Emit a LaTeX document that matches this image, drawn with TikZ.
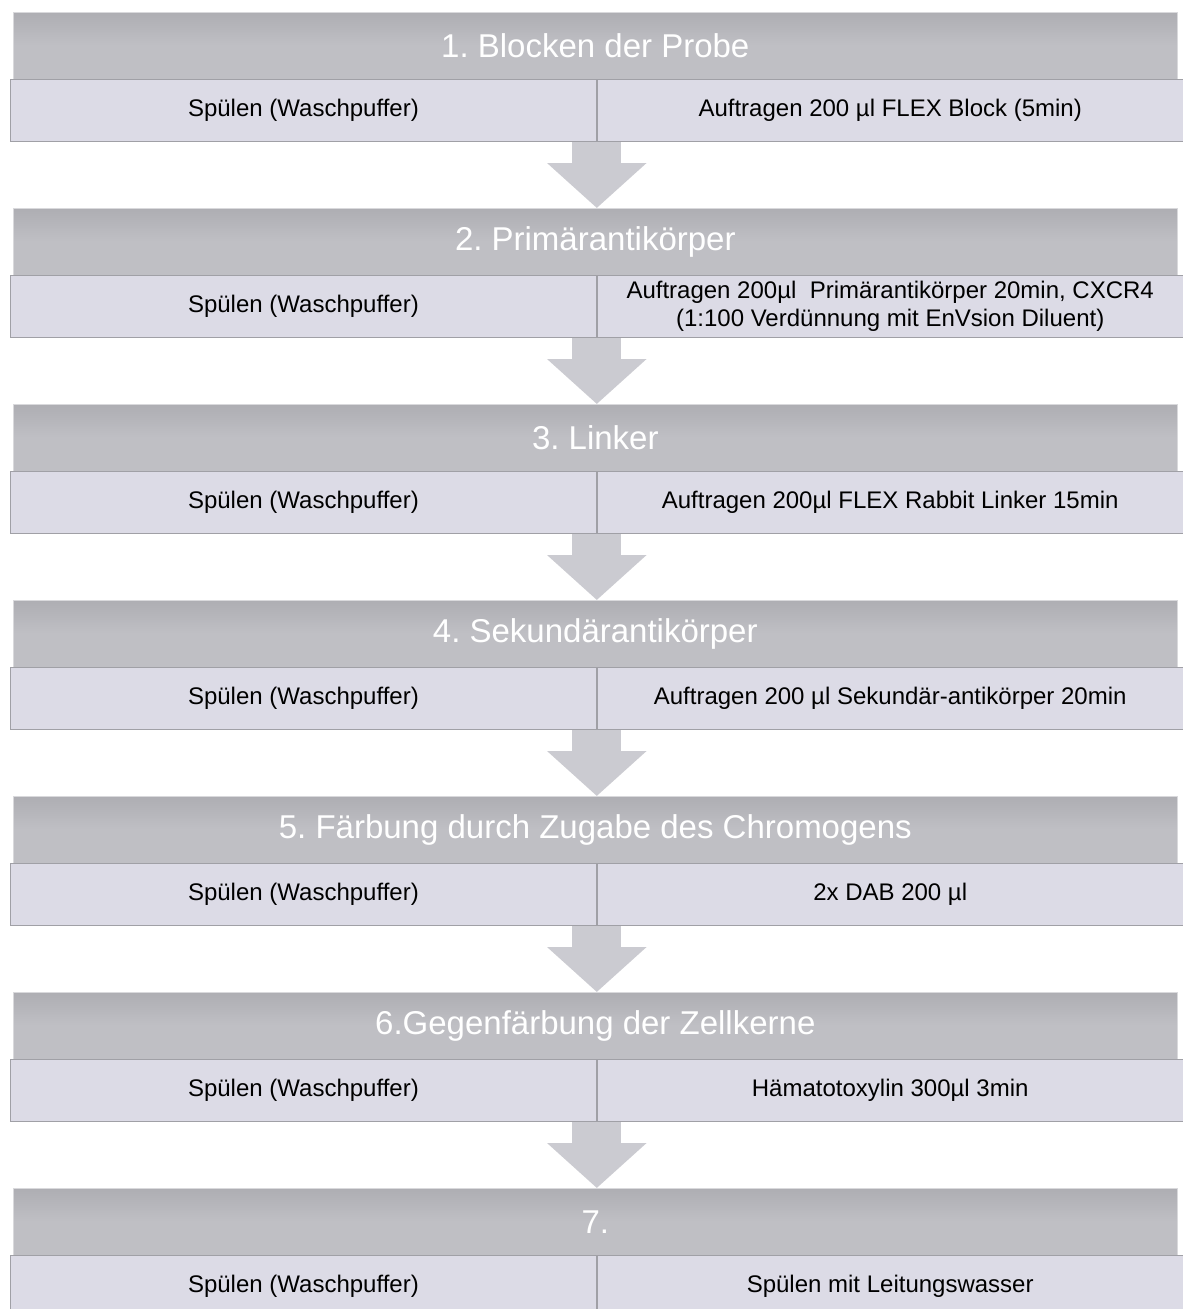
\documentclass[tikz,border=0pt]{standalone}
\usepackage{fontspec}
\setmainfont{Liberation Sans}
\usepackage{tikz}
\usetikzlibrary{arrows.meta,positioning}
\frenchspacing
\definecolor{silver}{HTML}{BFBFC4}
\definecolor{silvertop}{HTML}{AEAEB3}
\definecolor{lilac}{HTML}{DCDBE6}
\definecolor{rim}{HTML}{A0A0A6}
\definecolor{pewter}{HTML}{CBCBD1}
\tikzset{
  stagebar/.style={rectangle, draw=silver!60!white, line width=0.6pt, top color=silvertop, bottom color=silver,
                   middle color=silver, minimum width=1164pt, minimum height=67pt, anchor=north west,
                   inner sep=0pt, text=white, font=\fontsize{33}{38}\selectfont},
  cell/.style={rectangle, draw=rim, fill=lilac, line width=0.8pt, minimum width=586pt, minimum height=62pt,
               inner sep=0pt, align=center, font=\fontsize{24}{28}\selectfont},
  flow/.style={draw=pewter, line width=49pt, -{Triangle[width=97pt, length=45pt]}}
}

\begin{document}
\begin{tikzpicture}[x=1pt, y=-1pt]
  \useasboundingbox (0,0) rectangle (1183,1309);

  \newcommand{\stage}[5]{%
    \node[stagebar] (h#1) at (13, #2) {#3};
    \node[cell, anchor=north west] (l#1) at (10, #2+67) {#4};
    \node[cell, right=0pt of l#1] (r#1) {#5};}

  \stage{1}{12}{1. Blocken der Probe}{Spülen (Waschpuffer)}{Auftragen 200 µl FLEX Block (5min)}
  \stage{2}{208}{2. Primärantikörper}{Spülen (Waschpuffer)}{Auftragen 200µl~ Primärantikörper 20min, CXCR4\\(1:100 Verdünnung mit EnVsion Diluent)}
  \stage{3}{404}{3. Linker}{Spülen (Waschpuffer)}{Auftragen 200µl FLEX Rabbit Linker 15min}
  \stage{4}{600}{4. Sekundärantikörper}{Spülen (Waschpuffer)}{Auftragen 200 µl Sekundär-antikörper 20min}
  \stage{5}{796}{5. Färbung durch Zugabe des Chromogens}{Spülen (Waschpuffer)}{2x DAB 200 µl}
  \stage{6}{992}{6.Gegenfärbung der Zellkerne}{Spülen (Waschpuffer)}{Hämatotoxylin 300µl 3min}
  \stage{7}{1188}{7.}{Spülen (Waschpuffer)}{Spülen mit Leitungswasser}

  \foreach \i/\j in {1/2,2/3,3/4,4/5,5/6,6/7}
    \draw[flow] (l\i.south east) -- (l\i.south east |- h\j.north);
\end{tikzpicture}
\end{document}
